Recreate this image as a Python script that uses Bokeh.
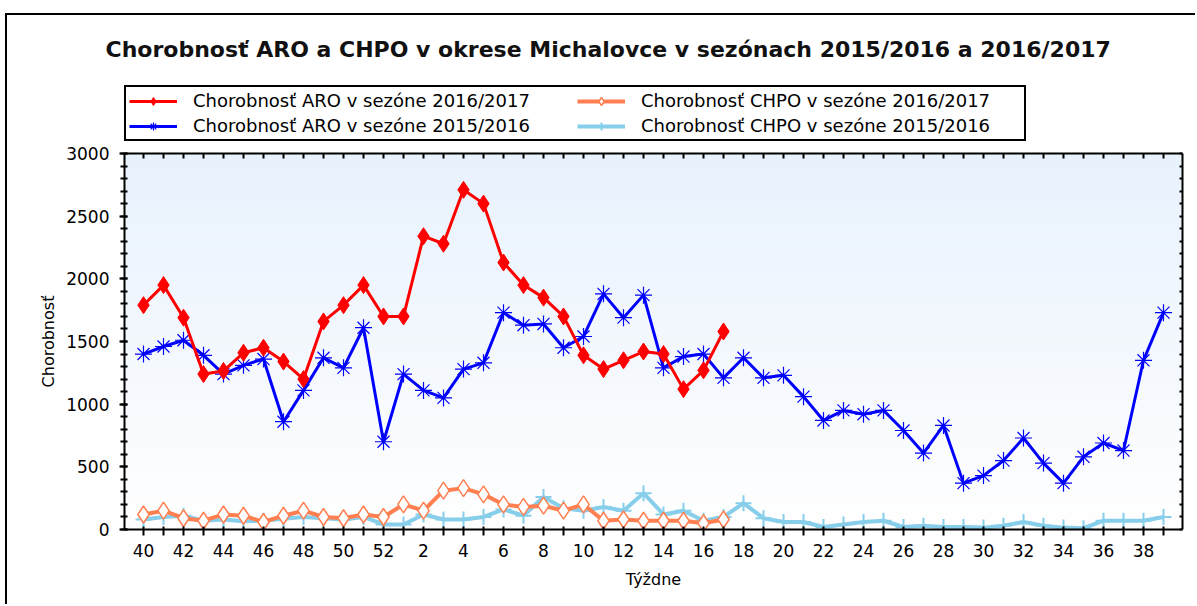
import numpy as np
from bokeh.plotting import figure
from bokeh.layouts import column
from bokeh.models import (Range1d, LinearAxis, FixedTicker, Legend, LegendItem, Title,
                          ColumnDataSource)
from bokeh.embed import file_html
from bokeh.resources import INLINE

# ---------------- data ----------------
weeks = list(range(40, 53)) + list(range(1, 40))
aro_2016_2017 = [1790, 1950, 1690, 1240, 1265, 1410, 1450, 1340, 1200, 1660, 1790, 1950, 1700,
                 1700, 2340, 2280, 2710, 2600, 2130, 1950, 1850, 1700, 1390, 1280, 1350, 1420,
                 1400, 1120, 1270, 1580]
chpo_2016_2017 = [120, 150, 90, 70, 120, 110, 60, 110, 150, 100, 90, 120, 100,
                  200, 150, 310, 330, 280, 200, 180, 190, 150, 200, 70, 80, 70,
                  70, 70, 50, 80]
aro_2015_2016 = [1400, 1460, 1510, 1390, 1240, 1310, 1360, 860, 1110, 1370, 1290, 1610, 700,
                 1240, 1110, 1050, 1280, 1330, 1730, 1630, 1640, 1450, 1540, 1880, 1690, 1870,
                 1290, 1380, 1400, 1210, 1370, 1210, 1230, 1060, 870, 950, 920, 950, 790,
                 610, 830, 370, 430, 550, 730, 530, 370, 580, 690, 630, 1350, 1730]
chpo_2015_2016 = [80, 100, 110, 70, 80, 65, 70, 85, 100, 90, 80, 100, 40,
                  40, 120, 80, 80, 100, 160, 110, 260, 170, 150, 180, 150, 290,
                  120, 150, 70, 100, 210, 90, 60, 60, 20, 40, 60, 70, 20,
                  30, 20, 20, 15, 30, 60, 30, 15, 10, 70, 70, 70, 100]

title_text = "Chorobnosť ARO a CHPO v okrese Michalovce v sezónach 2015/2016 a 2016/2017"
names = ["Chorobnosť ARO v sezóne 2016/2017", "Chorobnosť CHPO v sezóne 2016/2017",
         "Chorobnosť ARO v sezóne 2015/2016", "Chorobnosť CHPO v sezóne 2015/2016"]

idx = list(range(len(weeks)))
idx_2017 = idx[:len(aro_2016_2017)]

FONT = "DejaVu Sans"
C_ARO17, C_ARO16, C_CH17, C_CH16 = "#FF0000", "#0000FF", "#FF7F50", "#87CEEB"

W = 1195
H_HEAD = 143
H_MAIN = 604 - H_HEAD
FRAME_L, FRAME_R = 124, 1182
HEAD_TOP = 70

# ---------------- header: title + legend ----------------
head = figure(width=W, height=H_HEAD, output_backend="svg", toolbar_location=None,
              x_range=Range1d(FRAME_L, FRAME_R), y_range=Range1d(0, 1),
              min_border=0, min_border_left=FRAME_L, min_border_right=W - FRAME_R,
              min_border_top=HEAD_TOP, x_axis_location=None, y_axis_location=None)
head.grid.visible = False
head.outline_line_color = None
head.background_fill_alpha = 0
head.border_fill_alpha = 0
head.styles = {
    "background": "linear-gradient(#000,#000) 5px 13px / 2px 100% no-repeat, "
                  "linear-gradient(#000,#000) 5px 13px / 100% 2px no-repeat, #ffffff"
}
head.title = Title(text=title_text, align="left", offset=-19, text_font=FONT,
                   text_font_style="bold", text_font_size="22px", text_color="#111111",
                   standoff=18)

def legend_pair(fig, color, kind):
    # legend swatch renderers only (a single undefined point, never drawn in the frame)
    src = ColumnDataSource(dict(x=np.array([np.nan]), y=np.array([np.nan])))
    if kind == "aro17":
        ln = fig.line("x", "y", source=src, line_color=color, line_width=3)
        mk = fig.scatter("x", "y", source=src, marker="diamond", size=17, fill_color=color, line_color=color)
    elif kind == "aro16":
        ln = fig.line("x", "y", source=src, line_color=color, line_width=3)
        mk = fig.scatter("x", "y", source=src, marker="asterisk", size=17, line_color=color, line_width=1.2)
    elif kind == "ch17":
        ln = fig.line("x", "y", source=src, line_color=color, line_width=4)
        mk = fig.scatter("x", "y", source=src, marker="diamond", size=17, fill_color="white",
                         line_color=color, line_width=1.5)
    else:
        ln = fig.line("x", "y", source=src, line_color=color, line_width=4)
        mk = fig.scatter("x", "y", source=src, marker="cross", size=16, line_color=color, line_width=2)
    return [ln, mk]

legend = Legend(items=[
    LegendItem(label=names[0], renderers=legend_pair(head, C_ARO17, "aro17")),
    LegendItem(label=names[2], renderers=legend_pair(head, C_ARO16, "aro16")),
    LegendItem(label=names[1], renderers=legend_pair(head, C_CH17, "ch17")),
    LegendItem(label=names[3], renderers=legend_pair(head, C_CH16, "ch16")),
], ncols=2, location=(0, 2))
legend.label_text_font = FONT
legend.label_text_font_size = "18px"
legend.label_text_color = "black"
legend.glyph_width = 48
legend.glyph_height = 20
legend.label_height = 20
legend.label_width = 380
legend.label_standoff = 16
legend.spacing = 4
legend.padding = 3
legend.margin = 0
legend.border_line_color = "black"
legend.border_line_alpha = 1
legend.border_line_width = 2
legend.background_fill_color = "white"
legend.background_fill_alpha = 1
head.add_layout(legend, "center")

# ---------------- main plot ----------------
p = figure(width=W, height=H_MAIN, output_backend="svg", toolbar_location=None,
           x_range=Range1d(-0.95, 51.95), y_range=Range1d(0, 3000),
           min_border_left=FRAME_L, min_border_top=153 - H_HEAD, min_border_right=W - FRAME_R,
           min_border_bottom=75, x_axis_location=None, y_axis_location=None)
p.grid.visible = False
p.outline_line_color = None
p.background_fill_color = "white"
p.border_fill_alpha = 0
p.styles = {
    "background": "linear-gradient(#000,#000) 5px 0px / 2px 100% no-repeat, #ffffff"
}

# gradient background of the plot area
n = 200
t = np.linspace(0, 1, n)
top = np.array([232, 242, 253])
bot = np.array([255, 255, 255])
img = np.zeros((n, 1), dtype=np.uint32)
view = img.view(dtype=np.uint8).reshape((n, 1, 4))
for i in range(n):
    c = bot + (top - bot) * t[i]
    view[i, 0, 0] = int(c[0]); view[i, 0, 1] = int(c[1]); view[i, 0, 2] = int(c[2]); view[i, 0, 3] = 255
p.image_rgba(image=[img], x=-0.95, y=0, dw=52.9, dh=3000)

# axes
xlabels = {i: (str(w) if w % 2 == 0 else "") for i, w in enumerate(weeks)}
xb = LinearAxis(ticker=FixedTicker(ticks=idx), major_label_overrides=xlabels,
                axis_label="Týždne")
xt = LinearAxis(ticker=FixedTicker(ticks=idx), major_label_overrides={i: "" for i in idx})
yl = LinearAxis(ticker=FixedTicker(ticks=list(range(0, 3001, 500)),
                                   minor_ticks=list(range(0, 3001, 100))),
                axis_label="Chorobnosť")
yr = LinearAxis(ticker=FixedTicker(ticks=list(range(0, 3001, 100))),
                major_label_overrides={v: "" for v in range(0, 3001, 100)})
for ax in (xb, xt, yl, yr):
    ax.axis_line_width = 2
    ax.axis_line_color = "black"
    ax.major_tick_line_color = "black"
    ax.minor_tick_line_color = "black"
    ax.major_tick_line_width = 2
    ax.minor_tick_line_width = 2
    ax.major_label_text_font = FONT
    ax.major_label_text_font_size = "17px"
    ax.major_label_text_color = "black"
    ax.axis_label_text_font = FONT
    ax.axis_label_text_font_size = "16px"
    ax.axis_label_text_font_style = "normal"
    ax.axis_label_text_color = "black"
xb.major_tick_in = 3; xb.major_tick_out = 6; xb.major_label_standoff = 8
xb.axis_label_standoff = 10
xt.major_tick_in = 5; xt.major_tick_out = 0; xt.major_label_standoff = 0
xt.major_label_text_font_size = "1px"
yl.major_tick_in = 3; yl.major_tick_out = 5; yl.minor_tick_in = 3; yl.minor_tick_out = 4
yl.major_label_standoff = 10; yl.axis_label_standoff = 5
yr.major_tick_in = 3; yr.major_tick_out = 0; yr.major_label_standoff = 0
yr.major_label_text_font_size = "1px"
p.add_layout(xb, "below")
p.add_layout(xt, "above")
p.add_layout(yl, "left")
p.add_layout(yr, "right")

# series (drawing order: light blue, orange, blue, red on top)
s_cb = ColumnDataSource(dict(x=idx, y=chpo_2015_2016))
p.line("x", "y", source=s_cb, line_color=C_CH16, line_width=4)
p.scatter("x", "y", source=s_cb, marker="cross", size=16, line_color=C_CH16, line_width=2)

s_co = ColumnDataSource(dict(x=idx_2017, y=chpo_2016_2017))
p.line("x", "y", source=s_co, line_color=C_CH17, line_width=4)
p.scatter("x", "y", source=s_co, marker="diamond", size=17, fill_color="white",
          line_color=C_CH17, line_width=1.5)

s_ab = ColumnDataSource(dict(x=idx, y=aro_2015_2016))
p.line("x", "y", source=s_ab, line_color=C_ARO16, line_width=3)
p.scatter("x", "y", source=s_ab, marker="asterisk", size=17, line_color=C_ARO16, line_width=1.2)

s_ar = ColumnDataSource(dict(x=idx_2017, y=aro_2016_2017))
p.line("x", "y", source=s_ar, line_color=C_ARO17, line_width=3)
p.scatter("x", "y", source=s_ar, marker="diamond", size=17, fill_color=C_ARO17,
          line_color=C_ARO17)

layout = column(head, p, spacing=0)
open("out.html", "w").write(file_html(layout, INLINE))
